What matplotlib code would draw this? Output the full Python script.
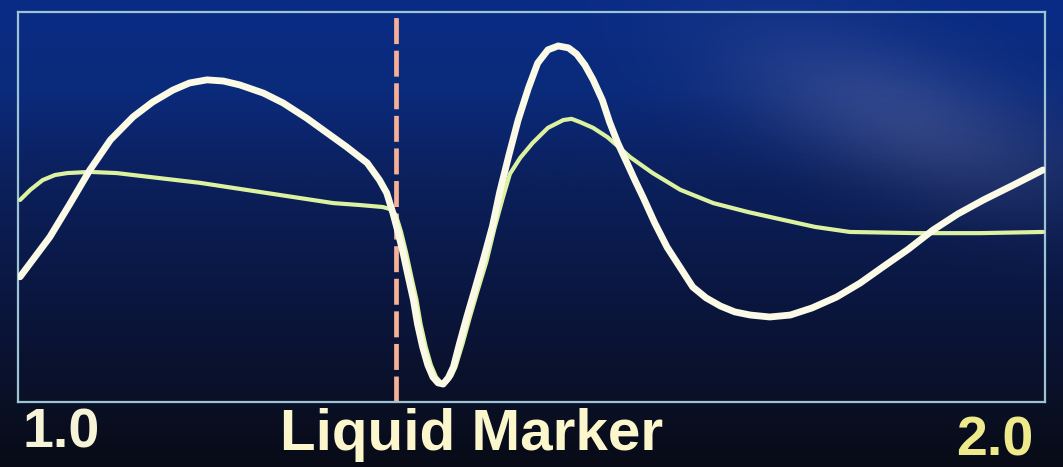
import numpy as np
import matplotlib
matplotlib.use("Agg")
import matplotlib.pyplot as plt
from matplotlib.colors import LinearSegmentedColormap

# trace values (x: 1.0 .. 2.0, y: 0 .. 100 of plot height)
white_x = [1.002, 1.031, 1.051, 1.070, 1.090, 1.112, 1.131, 1.151, 1.167, 1.184,
           1.200, 1.216, 1.239, 1.258, 1.281, 1.301, 1.320, 1.340, 1.352, 1.359,
           1.365, 1.370, 1.375, 1.380, 1.385, 1.389, 1.394, 1.399, 1.404, 1.409,
           1.414, 1.419, 1.424, 1.430, 1.437, 1.445, 1.453, 1.462, 1.469, 1.478,
           1.487, 1.497, 1.506, 1.516, 1.526, 1.536, 1.544, 1.552, 1.560, 1.569,
           1.576, 1.584, 1.593, 1.601, 1.609, 1.620, 1.632, 1.645, 1.657, 1.670,
           1.684, 1.698, 1.713, 1.732, 1.752, 1.773, 1.797, 1.820, 1.842, 1.867,
           1.891, 1.915, 1.940, 1.969, 1.998]
white_y = [32.1, 42.3, 51.0, 59.5, 67.2, 73.1, 76.9, 80.0, 81.8, 82.6,
           82.3, 81.3, 79.2, 76.7, 72.8, 69.0, 65.4, 61.3, 56.9, 53.6,
           48.5, 43.6, 38.2, 32.1, 26.2, 20.0, 14.1, 9.5, 6.4, 4.9,
           4.6, 6.2, 9.0, 15.1, 21.8, 29.0, 36.4, 45.1, 53.8, 63.3,
           72.3, 80.5, 86.9, 90.3, 91.3, 90.8, 89.2, 86.4, 82.6, 77.4,
           71.8, 66.4, 61.3, 56.7, 52.3, 45.9, 39.7, 34.4, 29.5, 26.7,
           24.6, 23.1, 22.3, 21.8, 22.3, 24.1, 26.9, 30.5, 34.6, 39.2,
           44.1, 48.2, 51.8, 55.6, 59.5]

green_x = [1.002, 1.012, 1.024, 1.036, 1.048, 1.070, 1.096, 1.138, 1.177, 1.242,
           1.307, 1.333, 1.355, 1.362, 1.368, 1.373, 1.378, 1.383, 1.388, 1.392,
           1.397, 1.402, 1.407, 1.412, 1.417, 1.422, 1.426, 1.433, 1.440, 1.448,
           1.456, 1.464, 1.472, 1.479, 1.489, 1.501, 1.516, 1.531, 1.539, 1.547,
           1.560, 1.574, 1.584, 1.596, 1.618, 1.645, 1.677, 1.711, 1.745, 1.776,
           1.810, 1.875, 1.937, 1.998]
green_y = [51.8, 54.4, 56.9, 58.2, 58.7, 59.0, 58.7, 57.4, 56.2, 53.6,
           51.0, 50.5, 50.0, 49.5, 47.9, 43.6, 38.2, 32.1, 26.2, 20.0,
           14.1, 9.5, 6.4, 4.9, 5.1, 6.7, 9.0, 15.1, 21.8, 29.0,
           35.9, 44.6, 52.3, 58.5, 62.6, 66.4, 70.3, 72.3, 72.6, 71.8,
           70.3, 67.9, 65.6, 62.8, 58.7, 54.4, 51.0, 48.7, 46.7, 44.9,
           43.6, 43.3, 43.3, 43.6]

marker_x = 1.368
x_labels = ["1.0", "2.0"]
title = "Liquid Marker"

fig = plt.figure(figsize=(10.63, 4.67), dpi=100)

# screen background: dark navy getting brighter towards the top
bg = fig.add_axes([0, 0, 1, 1])
bg.axis("off")
cmap = LinearSegmentedColormap.from_list(
    "screen", [(0, "#080b16"), (0.14, "#0a1026"), (0.35, "#0a163e"),
               (0.6, "#0b1f5a"), (0.8, "#0b2a7a"), (1, "#0a2c86")])
grad = np.linspace(0, 1, 256).reshape(-1, 1)
bg.imshow(grad, cmap=cmap, aspect="auto", origin="lower", extent=[0, 1, 0, 1])
# soft diagonal reflection on the upper right
gx, gy = np.meshgrid(np.linspace(0, 1, 300), np.linspace(0, 1, 150))
u = (gx - 0.85) * 0.8 + (gy - 0.75) * 0.6
v = -(gx - 0.85) * 0.6 + (gy - 0.75) * 0.8
glow = np.exp(-(u ** 2 / 0.012 + v ** 2 / 0.05)) * 0.26
rgba = np.zeros((150, 300, 4))
rgba[..., 0] = 0.6
rgba[..., 1] = 0.6
rgba[..., 2] = 0.78
rgba[..., 3] = glow
bg.imshow(rgba, aspect="auto", origin="lower", extent=[0, 1, 0, 1])
bg.set_xlim(0, 1)
bg.set_ylim(0, 1)

ax = fig.add_axes([18 / 1063, 65 / 467, 1027 / 1063, 390 / 467])
ax.set_facecolor("none")
ax.set_xlim(1.0, 2.0)
ax.set_ylim(0, 100)
ax.set_xticks([])
ax.set_yticks([])
for s in ax.spines.values():
    s.set_color("#9cc4d4")
    s.set_linewidth(1.6)

ax.axvline(marker_x, color="#f5b096", lw=3.4, linestyle=(0, (5.5, 1.4)), zorder=2)
ax.plot(green_x, green_y, color="#dcf2a0", lw=3.0, solid_joinstyle="round",
        solid_capstyle="round", zorder=3)
ax.plot(white_x, white_y, color="#fbfae6", lw=4.9, solid_joinstyle="round",
        solid_capstyle="round", zorder=4)

font = dict(family=["Liberation Sans", "DejaVu Sans"], weight="bold")
fig.text(22 / 1063, (467 - 448) / 467, x_labels[0], color="#f6f3d6",
         ha="left", va="baseline", fontsize=40, **font)
fig.text(1033 / 1063, (467 - 456) / 467, x_labels[1], color="#eeea8c",
         ha="right", va="baseline", fontsize=40, **font)
fig.text(472 / 1063, (467 - 450) / 467, title, color="#fbf6cc",
         ha="center", va="baseline", fontsize=42, **font)

fig.savefig("out.png", dpi=100)
